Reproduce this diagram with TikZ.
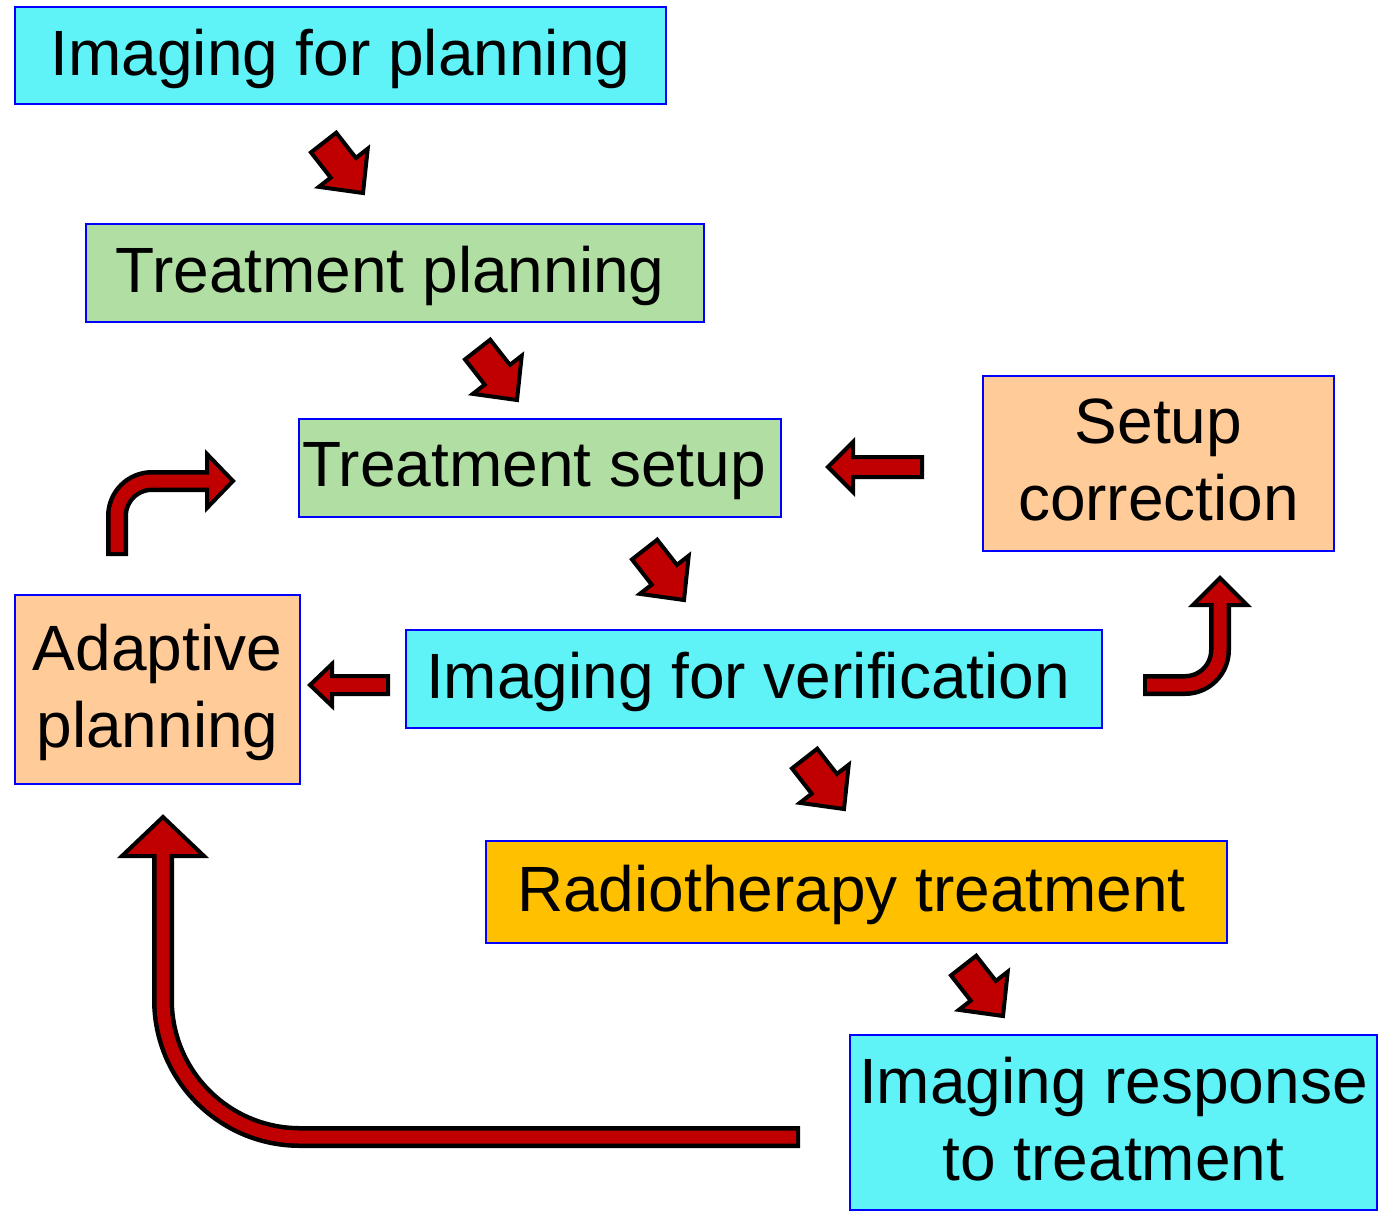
\documentclass[tikz,border=0pt]{standalone}
\usepackage{fontspec}
\setmainfont{Liberation Sans}
\usetikzlibrary{calc}

\definecolor{imgcyan}{RGB}{95,242,247}
\definecolor{plangreen}{RGB}{177,223,163}
\definecolor{adaptpeach}{RGB}{255,204,153}
\definecolor{rtorange}{RGB}{255,192,0}
\definecolor{arrowred}{RGB}{192,0,0}

\tikzset{
  stage/.style={draw=blue, line width=1.5, align=center, inner sep=0pt,
    text depth=7pt, font=\fontsize{64}{77}\selectfont},
  shaftout/.style={draw=black, line width=22, line join=round},
  shaftin/.style={draw=arrowred, line width=13},
  % straight block arrow: length / head length / head half width / shaft half width
  pics/fatarrow/.style args={#1/#2/#3/#4}{code={
    \filldraw[fill=arrowred, draw=black, line width=4, line join=miter]
      (0,0) -- (-#2,#3) -- (-#2,#4) -- (-#1,#4) -- (-#1,-#4)
      -- (-#2,-#4) -- (-#2,-#3) -- cycle;}},
  % head of a bent arrow: head length / head half width
  pics/tiphead/.style args={#1/#2}{code={
    \filldraw[fill=arrowred, draw=black, line width=4, line join=miter]
      (0,0) -- (-#1,#2) -- (-#1,-#2) -- cycle;}}
}

\begin{document}
\begin{tikzpicture}[x=1pt, y=-1pt]
    \useasboundingbox (0,0) rectangle (1385,1211);

    \node[stage, fill=imgcyan, minimum width=651, minimum height=97] (ipl) at (340.5,55.5) {Imaging for planning};
    \node[stage, fill=plangreen, minimum width=618, minimum height=98] (tpl) at (395,273) {Treatment planning\hspace{10pt}};
    \node[stage, fill=plangreen, minimum width=482, minimum height=98] (tset) at (540,468) {Treatment setup\hspace{12pt}};
    \node[stage, fill=adaptpeach, minimum width=351, minimum height=175] (scor) at (1158.5,463.5) {Setup\\correction\hspace{10pt}};
    \node[stage, fill=adaptpeach, minimum width=285, minimum height=189] (adap) at (157.5,689.5) {Adaptive\hspace{8pt}\\planning\hspace{8pt}};
    \node[stage, fill=imgcyan, minimum width=696, minimum height=98] (iver) at (754,679) {Imaging for verification\hspace{12pt}};
    \node[stage, fill=rtorange, minimum width=741, minimum height=102] (rt) at (856.5,892) {Radiotherapy treatment\hspace{10pt}};
    \node[stage, fill=imgcyan, minimum width=527, minimum height=175] (iresp) at (1113.5,1122.5) {Imaging response\hspace{10pt}\\to treatment\hspace{10pt}};

    % straight arrows down the chain
    \coordinate (a1) at (363,193);
    \coordinate (a2) at (517,400);
    \coordinate (a3) at (684,600);
    \coordinate (a4) at (844,809);
    \coordinate (a5) at (1003,1016);
    \foreach \tip in {a1,a2,a3,a4,a5}
        \pic[rotate=-52] at (\tip) {fatarrow=64/32/31/16};

    % straight arrows to the left
    \coordinate (b1) at (828,467);
    \coordinate (b2) at (310,685);
    \pic[rotate=180] at (b1) {fatarrow=94/25/25/10};
    \pic[rotate=180] at (b2) {fatarrow=78/22/21/9};

    % adaptive planning -> treatment setup
    \coordinate (c1s) at (117,556);
    \coordinate (c1b) at (207,481);
    \coordinate (c1t) at (233,481);
    \draw[shaftout, rounded corners=35] (c1s) |- (c1b);
    \pic at (c1t) {tiphead=26/27};
    \draw[shaftin, rounded corners=35] ($(c1s)+(0,-4)$) |- ($(c1b)+(5,0)$);

    % imaging for verification -> setup correction
    \coordinate (c2s) at (1143,685);
    \coordinate (c2b) at (1220,605);
    \coordinate (c2t) at (1220,578);
    \draw[shaftout, rounded corners=35] (c2s) -| (c2b);
    \pic[rotate=90] at (c2t) {tiphead=27/27};
    \draw[shaftin, rounded corners=35] ($(c2s)+(4,0)$) -| ($(c2b)+(0,-5)$);

    % imaging response -> adaptive planning
    \coordinate (c3s) at (800,1137);
    \coordinate (c3b) at (163,856);
    \coordinate (c3t) at (163,817);
    \draw[shaftout, rounded corners=137] (c3s) -| (c3b);
    \pic[rotate=90] at (c3t) {tiphead=39/41};
    \draw[shaftin, rounded corners=137] ($(c3s)+(-4,0)$) -| ($(c3b)+(0,-5)$);
\end{tikzpicture}
\end{document}
